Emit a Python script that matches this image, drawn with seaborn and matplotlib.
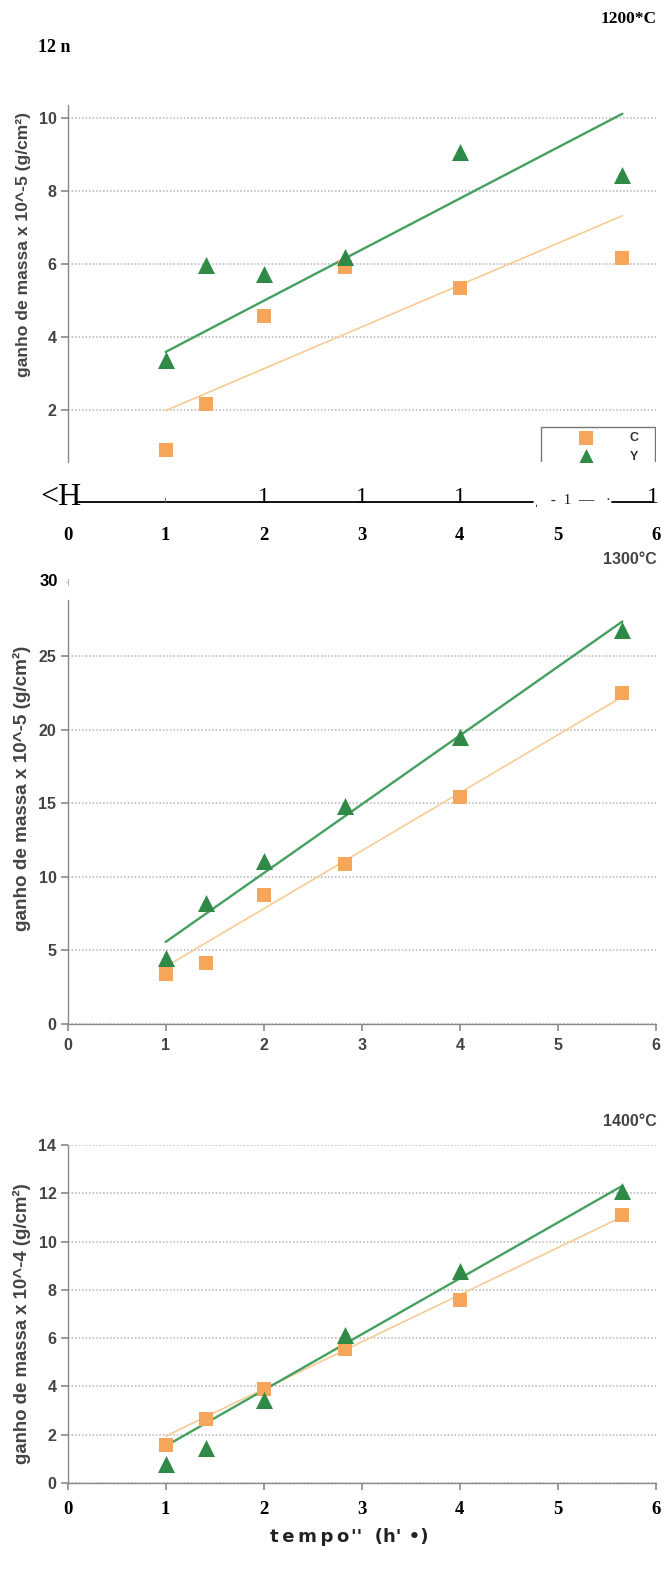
import matplotlib
matplotlib.use("Agg")
import matplotlib.pyplot as plt
import seaborn as sns
import pandas as pd

# ---------------- data ----------------
time_sqrt = [1.0, 1.414, 2.0, 2.828, 4.0, 5.657]
c_1200 = [0.88, 2.15, 4.57, 5.90, 5.33, 6.16]
y_1200 = [3.35, 5.97, 5.73, 6.18, 9.07, 8.43]
c_1300 = [3.41, 4.16, 8.77, 10.9, 15.4, 22.45]
y_1300 = [4.50, 8.25, 11.09, 14.84, 19.5, 26.77]
c_1400 = [1.59, 2.66, 3.88, 5.54, 7.57, 11.11]
y_1400 = [0.80, 1.47, 3.45, 6.12, 8.79, 12.10]
fit_x = [1.0, 5.657]
fitc_1200 = [1.97, 7.32]
fity_1200 = [3.58, 10.12]
fitc_1300 = [3.89, 22.23]
fity_1300 = [5.57, 27.34]
fitc_1400 = [1.94, 11.03]
fity_1400 = [1.53, 12.31]
series_labels = ["C", "Y"]
x_ticks = [0, 1, 2, 3, 4, 5, 6]
yticks_1200 = [2, 4, 6, 8, 10]
yticks_1300 = [0, 5, 10, 15, 20, 25]
yticks_1400 = [0, 2, 4, 6, 8, 10, 12, 14]

sns.set_theme(style="white")
plt.rcParams["font.family"] = ["Liberation Sans", "DejaVu Sans"]

ORANGE = "#F6A65A"
GREEN = "#2F8A47"
GREEN_LINE = "#45A060"
ORANGE_LINE = "#F8CB94"
GRAY_TXT = "#444444"
SPINE = "#8a8a8a"
SERIF = ["Liberation Serif", "DejaVu Serif"]

W, H = 665, 1580
fig = plt.figure(figsize=(W / 100, H / 100), dpi=100)


def fx(px):
    return px / W


def fy(py):
    return 1 - py / H


def make_axes(top, bottom, left=67.5, right=656):
    return fig.add_axes([fx(left), fy(bottom), fx(right - left), (bottom - top) / H])


def draw_panel(ax, cvals, yvals, fitc, fity):
    sns.lineplot(x=fit_x, y=fitc, ax=ax, color=ORANGE_LINE, lw=1.2, zorder=2)
    sns.lineplot(x=fit_x, y=fity, ax=ax, color=GREEN_LINE, lw=1.7, zorder=2)
    sns.scatterplot(x=time_sqrt, y=cvals, ax=ax, marker="s", s=95, color=ORANGE,
                    linewidth=0, zorder=4, label=series_labels[0])
    sns.scatterplot(x=time_sqrt, y=yvals, ax=ax, marker="^", s=150, color=GREEN,
                    linewidth=0, zorder=4, label=series_labels[1])


def style(ax, yticks, ylim, ylabel, label_y, label_size):
    ax.set_xlim(0, 6)
    ax.set_ylim(*ylim)
    ax.set_yticks(yticks)
    ax.set_xticks(x_ticks)
    for s in ["top", "right"]:
        ax.spines[s].set_visible(False)
    for s in ["left", "bottom"]:
        ax.spines[s].set_color(SPINE)
        ax.spines[s].set_linewidth(1.0)
    ax.yaxis.grid(True, color="#b5b5b5", lw=1.1, ls=(0, (1, 1.3)))
    ax.xaxis.grid(False)
    ax.set_axisbelow(True)
    ax.tick_params(axis="y", which="both", left=True, length=5, width=1.2,
                   color=SPINE, pad=3, labelsize=11.5, labelcolor=GRAY_TXT)
    for t in ax.get_yticklabels():
        t.set_fontweight("bold")
    ax.set_ylabel(ylabel, fontsize=label_size, fontweight="bold", color=GRAY_TXT)
    ax.yaxis.set_label_coords(-0.062, label_y)
    ax.set_xlabel("")


# ---------------- panel 1: 1200 C ----------------
ax1 = make_axes(105, 462)
draw_panel(ax1, c_1200, y_1200, fitc_1200, fity_1200)
style(ax1, yticks_1200, (0.56, 10.36), "ganho de massa x 10^-5 (g/cm²)", 0.608, 12.6)
ax1.spines["bottom"].set_visible(False)
ax1.tick_params(axis="x", bottom=True, length=0, pad=47, labelsize=13.5, labelcolor="black")
for t in ax1.get_xticklabels():
    t.set_fontfamily(SERIF)
    t.set_fontweight("bold")

leg = ax1.legend(loc="upper left", bbox_to_anchor=(0.8046, -0.5, 0.1937, 0.598),
                 mode="expand", borderaxespad=0,
                 frameon=True, fancybox=False, framealpha=1, edgecolor="#777777",
                 fontsize=9, borderpad=0.4, handlelength=6.4, handletextpad=0.3,
                 labelspacing=0.55, markerscale=1.0)
leg.get_frame().set_linewidth(1.0)
leg.legendPatch.set_clip_box(ax1.bbox)
leg.legendPatch.set_clip_on(True)
for txt in leg.get_texts():
    txt.set_fontweight("bold")
    txt.set_color("#333333")
for hd in leg.legend_handles:
    hd.set_clip_box(ax1.bbox)
    hd.set_clip_on(True)

# scanned-looking baseline under panel 1
tr = ax1.get_xaxis_transform()
yb = -0.112
ax1.plot([0.1, 4.75], [yb, yb], transform=tr, color="black", lw=1.3, clip_on=False)
ax1.plot([5.55, 5.96], [yb, yb], transform=tr, color="black", lw=1.3, clip_on=False)
for xv in [2, 3, 4, 5.97]:
    ax1.text(xv, yb + 0.012, "1", transform=tr, fontsize=17, family=SERIF,
             ha="center", va="center", color="black")
ax1.text(1.0, yb + 0.005, "ı", transform=tr, fontsize=7, family=SERIF,
         ha="center", va="center", color="#555555")
ax1.text(5.15, yb + 0.004, "ˌ   -  1  —   ·", transform=tr, fontsize=11, family=SERIF,
         ha="center", va="center", color="#222222")
ax1.text(-0.28, yb + 0.012, "<H", transform=tr, fontsize=23, family=SERIF,
         ha="left", va="center", color="black")

fig.text(fx(657), fy(19), "1200*C", ha="right", va="center", fontsize=12.5,
         family=SERIF, fontweight="bold", color="black")
fig.text(fx(38), fy(48), "12 n", ha="left", va="center", fontsize=13,
         family=SERIF, fontweight="bold", color="black")

# ---------------- panel 2: 1300 C ----------------
ax2 = make_axes(600, 1024)
draw_panel(ax2, c_1300, y_1300, fitc_1300, fity_1300)
style(ax2, yticks_1300, (0, 28.8), "ganho de massa x 10^-5 (g/cm²)", 0.557, 13.6)
ax2.get_legend().remove()
ax2.tick_params(axis="x", bottom=True, length=5, width=1.2, color=SPINE, pad=5,
                labelsize=11.5, labelcolor=GRAY_TXT)
for t in ax2.get_xticklabels():
    t.set_fontweight("bold")
fig.text(fx(657), fy(560), "1300°C", ha="right", va="center", fontsize=11.5,
         fontweight="bold", color=GRAY_TXT)
fig.text(fx(40), fy(582), "30", ha="left", va="center", fontsize=12,
         fontweight="bold", color="black")
fig.text(fx(66), fy(583), "-|", ha="left", va="center", fontsize=5, color="#888888")

# ---------------- panel 3: 1400 C ----------------
ax3 = make_axes(1145, 1483)
draw_panel(ax3, c_1400, y_1400, fitc_1400, fity_1400)
style(ax3, yticks_1400, (0, 14), "ganho de massa x 10^-4 (g/cm²)", 0.473, 13.4)
ax3.get_legend().remove()
ax3.tick_params(axis="x", bottom=True, length=5, width=1.2, color=SPINE, pad=8,
                labelsize=13.5, labelcolor="black")
for t in ax3.get_xticklabels():
    t.set_fontfamily(SERIF)
    t.set_fontweight("bold")
fig.text(fx(657), fy(1121), "1400°C", ha="right", va="center", fontsize=11.5,
         fontweight="bold", color=GRAY_TXT)
fig.text(fx(349), fy(1537), "t\u2009e\u2009m\u2009p\u2009o\u200a''  (h'\u2009\u2009•)",
         ha="center", va="center", fontsize=13, fontweight="bold", color="#222222",
         family=["DejaVu Sans"])

fig.savefig("out.png", dpi=100)
